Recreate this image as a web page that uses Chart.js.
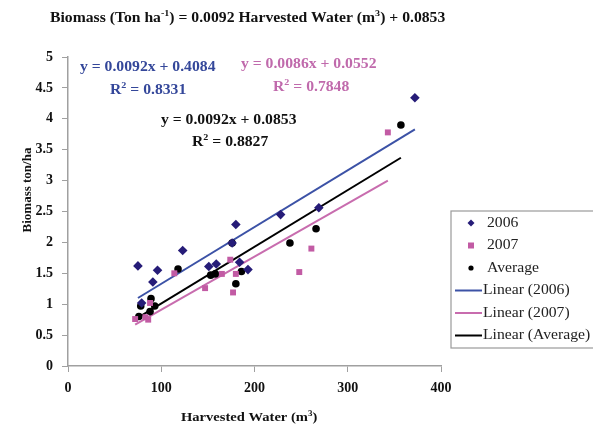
<!DOCTYPE html>
<html>
<head>
<meta charset="utf-8">
<script src="https://cdn.jsdelivr.net/npm/chart.js@4"></script>
<style>
  html, body { margin: 0; padding: 0; background: #fff; }
  #wrap { width: 593px; height: 430px; position: relative; }
</style>
</head>
<body>
<div id="wrap"><canvas id="chart" width="593" height="430"></canvas></div>
<script>
// Data
const water2006 = [75, 79, 91, 96, 123, 151, 159, 176, 180, 184, 193, 228, 269, 372];
const biomass2006 = [1.62, 1.02, 1.36, 1.55, 1.87, 1.61, 1.65, 1.99, 2.29, 1.68, 1.56, 2.45, 2.56, 4.34];

const water2007 = [72, 83, 86, 88, 114, 147, 165, 174, 177, 180, 248, 261, 343];
const biomass2007 = [0.76, 0.79, 0.75, 1.02, 1.50, 1.26, 1.49, 1.72, 1.19, 1.49, 1.52, 1.90, 3.78];

const waterAvg = [76, 78, 88, 89, 93, 118, 153, 158, 176, 180, 186, 238, 266, 357];
const biomassAvg = [0.80, 0.97, 0.88, 1.09, 0.97, 1.57, 1.47, 1.49, 1.99, 1.33, 1.53, 1.99, 2.22, 3.90];

// trendline end points (from the fitted equations shown on the chart)
const trendX2006 = [75, 372];
const trendY2006 = [1.10, 3.83];
const trendX2007 = [72, 343];
const trendY2007 = [0.67, 3.00];
const trendXAvg = [76, 357];
const trendYAvg = [0.79, 3.37];

const xTicks = [0, 100, 200, 300, 400];
const yTicks = [0, 0.5, 1, 1.5, 2, 2.5, 3, 3.5, 4, 4.5, 5];

const COLORS = {
  navy: '#261c78',
  blueLine: '#3c52a6',
  blueText: '#34479a',
  pink: '#c25ba4',
  pinkLine: '#c86cae',
  pinkText: '#c06aac',
  black: '#000',
  axis: '#a0a0a0',
};

const SERIF = "'Liberation Serif', 'DejaVu Serif', serif";
const STRETCH = 1.12;

const pts = (xs, ys) => xs.map((x, i) => ({ x, y: ys[i] }));

// draw a run of text pieces, some of them as superscript
function drawRuns(ctx, runs, x, y, size, color, bold) {
  ctx.save();
  ctx.translate(x, y);
  ctx.scale(STRETCH, 1);
  ctx.fillStyle = color;
  ctx.textBaseline = 'middle';
  ctx.textAlign = 'left';
  let cx = 0;
  runs.forEach(r => {
    const s = r.sup ? Math.round(size * 0.62) : size;
    ctx.font = `${bold ? 'bold ' : ''}${s}px ${SERIF}`;
    ctx.fillText(r.t, cx, r.sup ? -size * 0.32 : 0);
    cx += ctx.measureText(r.t).width;
  });
  ctx.restore();
}

const labelsPlugin = {
  id: 'labels',
  afterDraw(chart) {
    const ctx = chart.ctx;

    // title
    drawRuns(ctx, [
      { t: 'Biomass (Ton ha' }, { t: '-1', sup: true },
      { t: ') = 0.0092 Harvested Water (m' }, { t: '3', sup: true },
      { t: ') + 0.0853' },
    ], 50, 18, 14, '#111', true);

    // regression equations
    drawRuns(ctx, [{ t: 'y = 0.0092x + 0.4084' }], 80, 67, 14, COLORS.blueText, true);
    drawRuns(ctx, [{ t: 'R' }, { t: '2', sup: true }, { t: ' = 0.8331' }], 110, 90, 14, COLORS.blueText, true);
    drawRuns(ctx, [{ t: 'y = 0.0086x + 0.0552' }], 241, 64, 14, COLORS.pinkText, true);
    drawRuns(ctx, [{ t: 'R' }, { t: '2', sup: true }, { t: ' = 0.7848' }], 273, 87, 14, COLORS.pinkText, true);
    drawRuns(ctx, [{ t: 'y = 0.0092x + 0.0853' }], 161, 120, 14, '#111', true);
    drawRuns(ctx, [{ t: 'R' }, { t: '2', sup: true }, { t: ' = 0.8827' }], 192, 142, 14, '#111', true);

    // axis titles
    drawRuns(ctx, [{ t: 'Harvested Water (m' }, { t: '3', sup: true }, { t: ')' }], 181, 418, 13, '#111', true);
    ctx.save();
    ctx.translate(28, 190);
    ctx.rotate(-Math.PI / 2);
    ctx.font = `bold 13px ${SERIF}`;
    ctx.fillStyle = '#111';
    ctx.textAlign = 'center';
    ctx.textBaseline = 'middle';
    ctx.fillText('Biomass ton/ha', 0, 0);
    ctx.restore();

    // legend
    ctx.save();
    ctx.strokeStyle = '#9a9a9a';
    ctx.lineWidth = 1.2;
    ctx.strokeRect(451, 211, 150, 137);
    const rowY = [223, 245.5, 268, 290.5, 313, 335.5];
    const names = ['2006', '2007', 'Average', 'Linear (2006)', 'Linear (2007)', 'Linear (Average)'];
    // markers
    ctx.fillStyle = COLORS.navy;
    ctx.beginPath();
    ctx.moveTo(471, rowY[0] - 3.5); ctx.lineTo(474.5, rowY[0]); ctx.lineTo(471, rowY[0] + 3.5); ctx.lineTo(467.5, rowY[0]);
    ctx.closePath(); ctx.fill();
    ctx.fillStyle = COLORS.pink;
    ctx.fillRect(468, rowY[1] - 3, 6, 6);
    ctx.fillStyle = '#000';
    ctx.beginPath(); ctx.arc(471, rowY[2], 2.6, 0, Math.PI * 2); ctx.fill();
    [COLORS.blueLine, COLORS.pinkLine, '#000'].forEach((c, i) => {
      ctx.strokeStyle = c;
      ctx.lineWidth = 2;
      ctx.beginPath();
      ctx.moveTo(455, rowY[3 + i]); ctx.lineTo(482, rowY[3 + i]);
      ctx.stroke();
    });
    ctx.restore();
    names.forEach((n, i) => {
      drawRuns(ctx, [{ t: n }], i < 3 ? 487 : 483, rowY[i], 14, '#222', false);
    });
  },
};

const ctx = document.getElementById('chart');
new Chart(ctx, {
  type: 'scatter',
  data: {
    datasets: [
      { label: '2006', data: pts(water2006, biomass2006), pointStyle: 'rectRot', pointRadius: 4.8,
        backgroundColor: COLORS.navy, borderColor: COLORS.navy, borderWidth: 0 },
      { label: '2007', data: pts(water2007, biomass2007), pointStyle: 'rect', pointRadius: 4.2,
        backgroundColor: COLORS.pink, borderColor: COLORS.pink, borderWidth: 0 },
      { label: 'Average', data: pts(waterAvg, biomassAvg), pointStyle: 'circle', pointRadius: 3.8,
        backgroundColor: '#000', borderColor: '#000', borderWidth: 0 },
      { label: 'Linear (2006)', type: 'line', data: pts(trendX2006, trendY2006), showLine: true,
        borderColor: COLORS.blueLine, borderWidth: 2, pointRadius: 0, fill: false },
      { label: 'Linear (2007)', type: 'line', data: pts(trendX2007, trendY2007), showLine: true,
        borderColor: COLORS.pinkLine, borderWidth: 2, pointRadius: 0, fill: false },
      { label: 'Linear (Average)', type: 'line', data: pts(trendXAvg, trendYAvg), showLine: true,
        borderColor: '#000', borderWidth: 2, pointRadius: 0, fill: false },
    ],
  },
  options: {
    responsive: false,
    animation: false,
    events: [],
    layout: { padding: { top: 57, right: 152, left: 0, bottom: 0 } },
    plugins: { legend: { display: false }, tooltip: { enabled: false } },
    scales: {
      x: {
        type: 'linear', min: 0, max: 400,
        afterBuildTicks: s => { s.ticks = xTicks.map(v => ({ value: v })); },
        afterFit: s => { s.height = 64; },
        grid: { display: true, drawOnChartArea: false, drawTicks: true, tickLength: 6, color: COLORS.axis },
        border: { color: COLORS.axis, width: 1.5 },
        ticks: { color: '#111', padding: 8, font: { family: SERIF, size: 14, weight: 'bold' },
          callback: v => String(v) },
      },
      y: {
        type: 'linear', min: 0, max: 5,
        afterBuildTicks: s => { s.ticks = yTicks.map(v => ({ value: v })); },
        afterFit: s => { s.width = 68; },
        grid: { display: true, drawOnChartArea: false, drawTicks: true, tickLength: 6, color: COLORS.axis },
        border: { color: COLORS.axis, width: 1.5 },
        ticks: { color: '#111', padding: 9, font: { family: SERIF, size: 14, weight: 'bold' },
          callback: v => String(v) },
      },
    },
  },
  plugins: [labelsPlugin],
});
</script>
</body>
</html>
